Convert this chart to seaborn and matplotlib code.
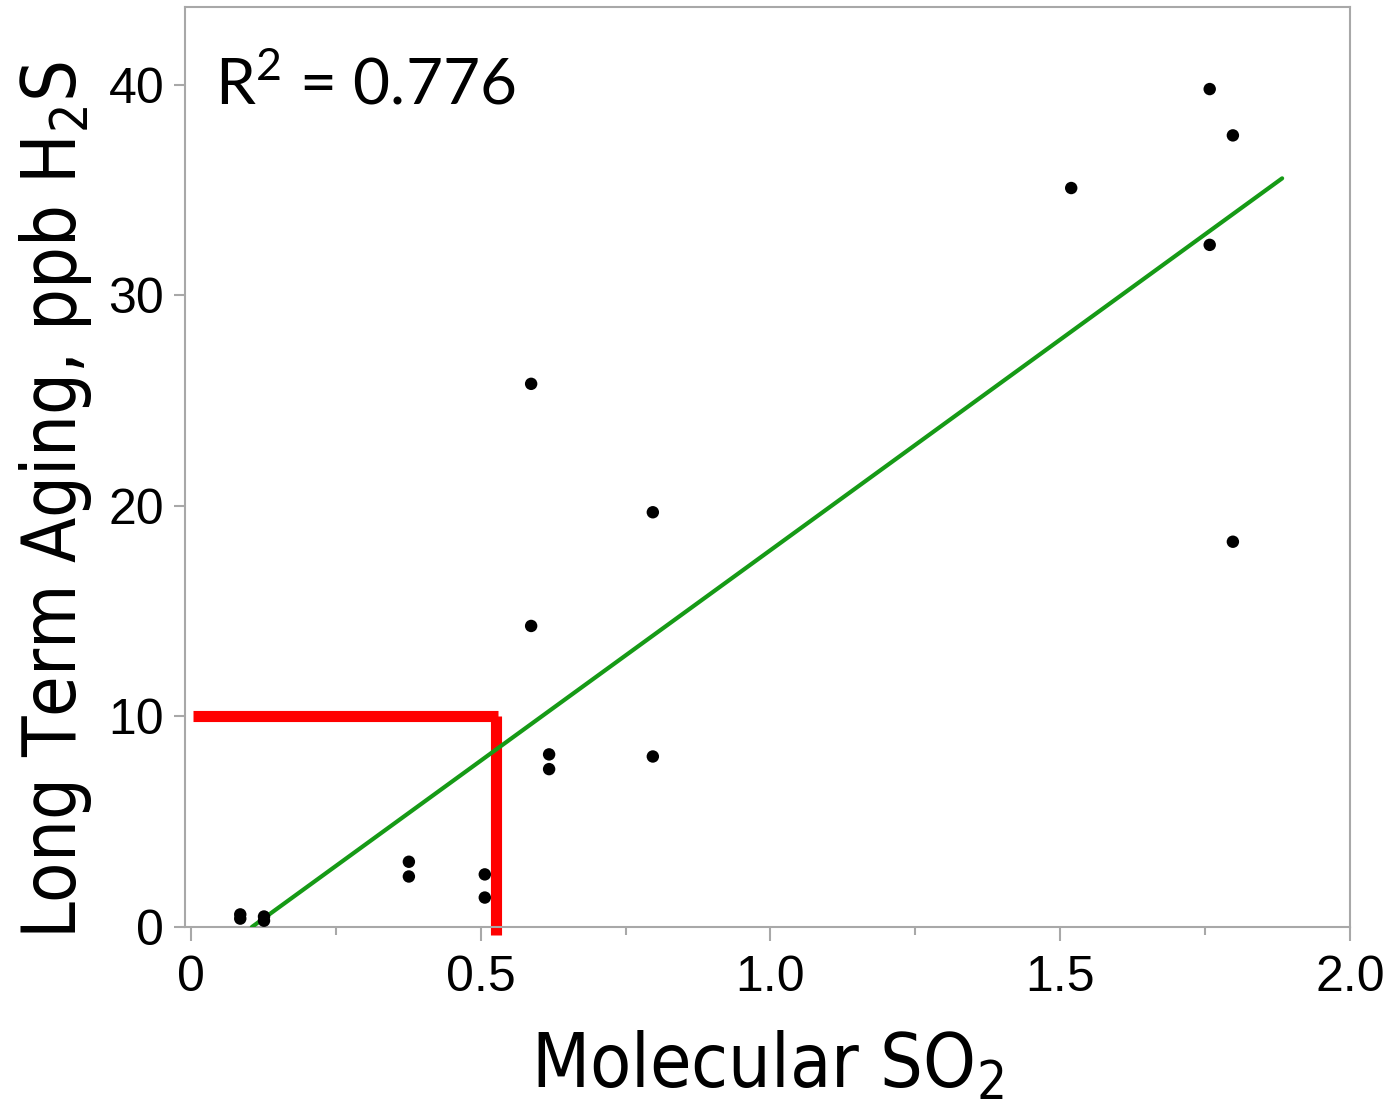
import numpy as np
import pandas as pd
import matplotlib
matplotlib.use("Agg")
import matplotlib.pyplot as plt
import seaborn as sns
from matplotlib.ticker import MultipleLocator

# Molecular SO2 vs. H2S after long term aging
molecular_so2 = [0.085, 0.085, 0.126, 0.126, 0.376, 0.376, 0.507, 0.507,
                 0.587, 0.587, 0.618, 0.618, 0.797, 0.797, 1.519,
                 1.758, 1.758, 1.798, 1.798]
h2s_ppb = [0.4, 0.6, 0.3, 0.5, 3.1, 2.4, 2.5, 1.4,
           25.8, 14.3, 8.2, 7.5, 19.7, 8.1, 35.1,
           39.8, 32.4, 37.6, 18.3]

# Linear fit drawn over its own x span
fit_slope = 20.0
fit_intercept = -2.1
fit_x_range = [0.105, 1.883]
r_squared_text = "0.776"

# Threshold guide: 10 ppb H2S and the matching SO2 level
threshold_h2s = 10.0
threshold_so2 = 0.526

x_ticks = [0, 0.5, 1.0, 1.5, 2.0]
x_tick_labels = ["0", "0.5", "1.0", "1.5", "2.0"]
y_ticks = [0, 10, 20, 30, 40]
y_tick_labels = ["0", "10", "20", "30", "40"]

df = pd.DataFrame({"so2": molecular_so2, "h2s": h2s_ppb})

sns.set_style("white")
plt.rcParams["font.family"] = ["DejaVu Sans"]
plt.rcParams["font.stretch"] = "condensed"
plt.rcParams["mathtext.default"] = "regular"
plt.rcParams["text.color"] = "black"
plt.rcParams["axes.labelcolor"] = "black"

fig = plt.figure(figsize=(13.96, 11.04), dpi=100)
ax = fig.add_axes([0.1325, 0.1603, 0.967 - 0.1325, 0.9937 - 0.1603])

sns.scatterplot(data=df, x="so2", y="h2s", ax=ax, color="black", s=80,
                edgecolor="none", zorder=4)

fx = np.array(fit_x_range)
sns.lineplot(x=fx, y=fit_slope * fx + fit_intercept, ax=ax, color="#169a16",
             linewidth=3, zorder=3)

red = "#ff0000"
ax.plot([0.003, threshold_so2 + 0.004], [threshold_h2s, threshold_h2s],
        color=red, linewidth=8, solid_capstyle="butt", zorder=2)
ax.plot([threshold_so2, threshold_so2], [threshold_h2s, -0.4],
        color=red, linewidth=8, solid_capstyle="butt", zorder=2, clip_on=False)

ax.set_xlim(-0.0104, 2.0)
ax.set_ylim(0, 43.7)

tick_font = dict(family="Liberation Sans", stretch="normal", size=36)
ax.set_xticks(x_ticks)
ax.set_xticklabels(x_tick_labels, fontdict=tick_font)
ax.xaxis.set_minor_locator(MultipleLocator(0.25))
ax.set_yticks(y_ticks)
ax.set_yticklabels(y_tick_labels, fontdict=tick_font)

spine_col = "#a8a8a8"
for sp in ax.spines.values():
    sp.set_color(spine_col)
    sp.set_linewidth(1.5)

ax.tick_params(axis="both", which="major", direction="out", colors=spine_col,
               labelcolor="black", width=1.5)
ax.tick_params(axis="x", which="major", length=10, pad=10)
ax.tick_params(axis="y", which="major", length=8, pad=7)
ax.tick_params(axis="x", which="minor", direction="out", length=6,
               width=1.5, colors=spine_col)
ax.tick_params(bottom=True, left=True, which="both")
ax.tick_params(axis="y", which="minor", left=False)

ax.set_xlabel("Molecular SO$_2$", fontsize=54, labelpad=21, color="black")
ax.set_ylabel("Long Term Aging, ppb H$_2$S", fontsize=53, color="black")
ax.yaxis.set_label_coords(-0.078, 0.464)

ax.text(0.026, 0.948, "R$^2$ = " + r_squared_text, transform=ax.transAxes,
        fontsize=46, family="Lato", stretch="normal", va="top", ha="left",
        color="black")

fig.savefig("out.png", dpi=100)
